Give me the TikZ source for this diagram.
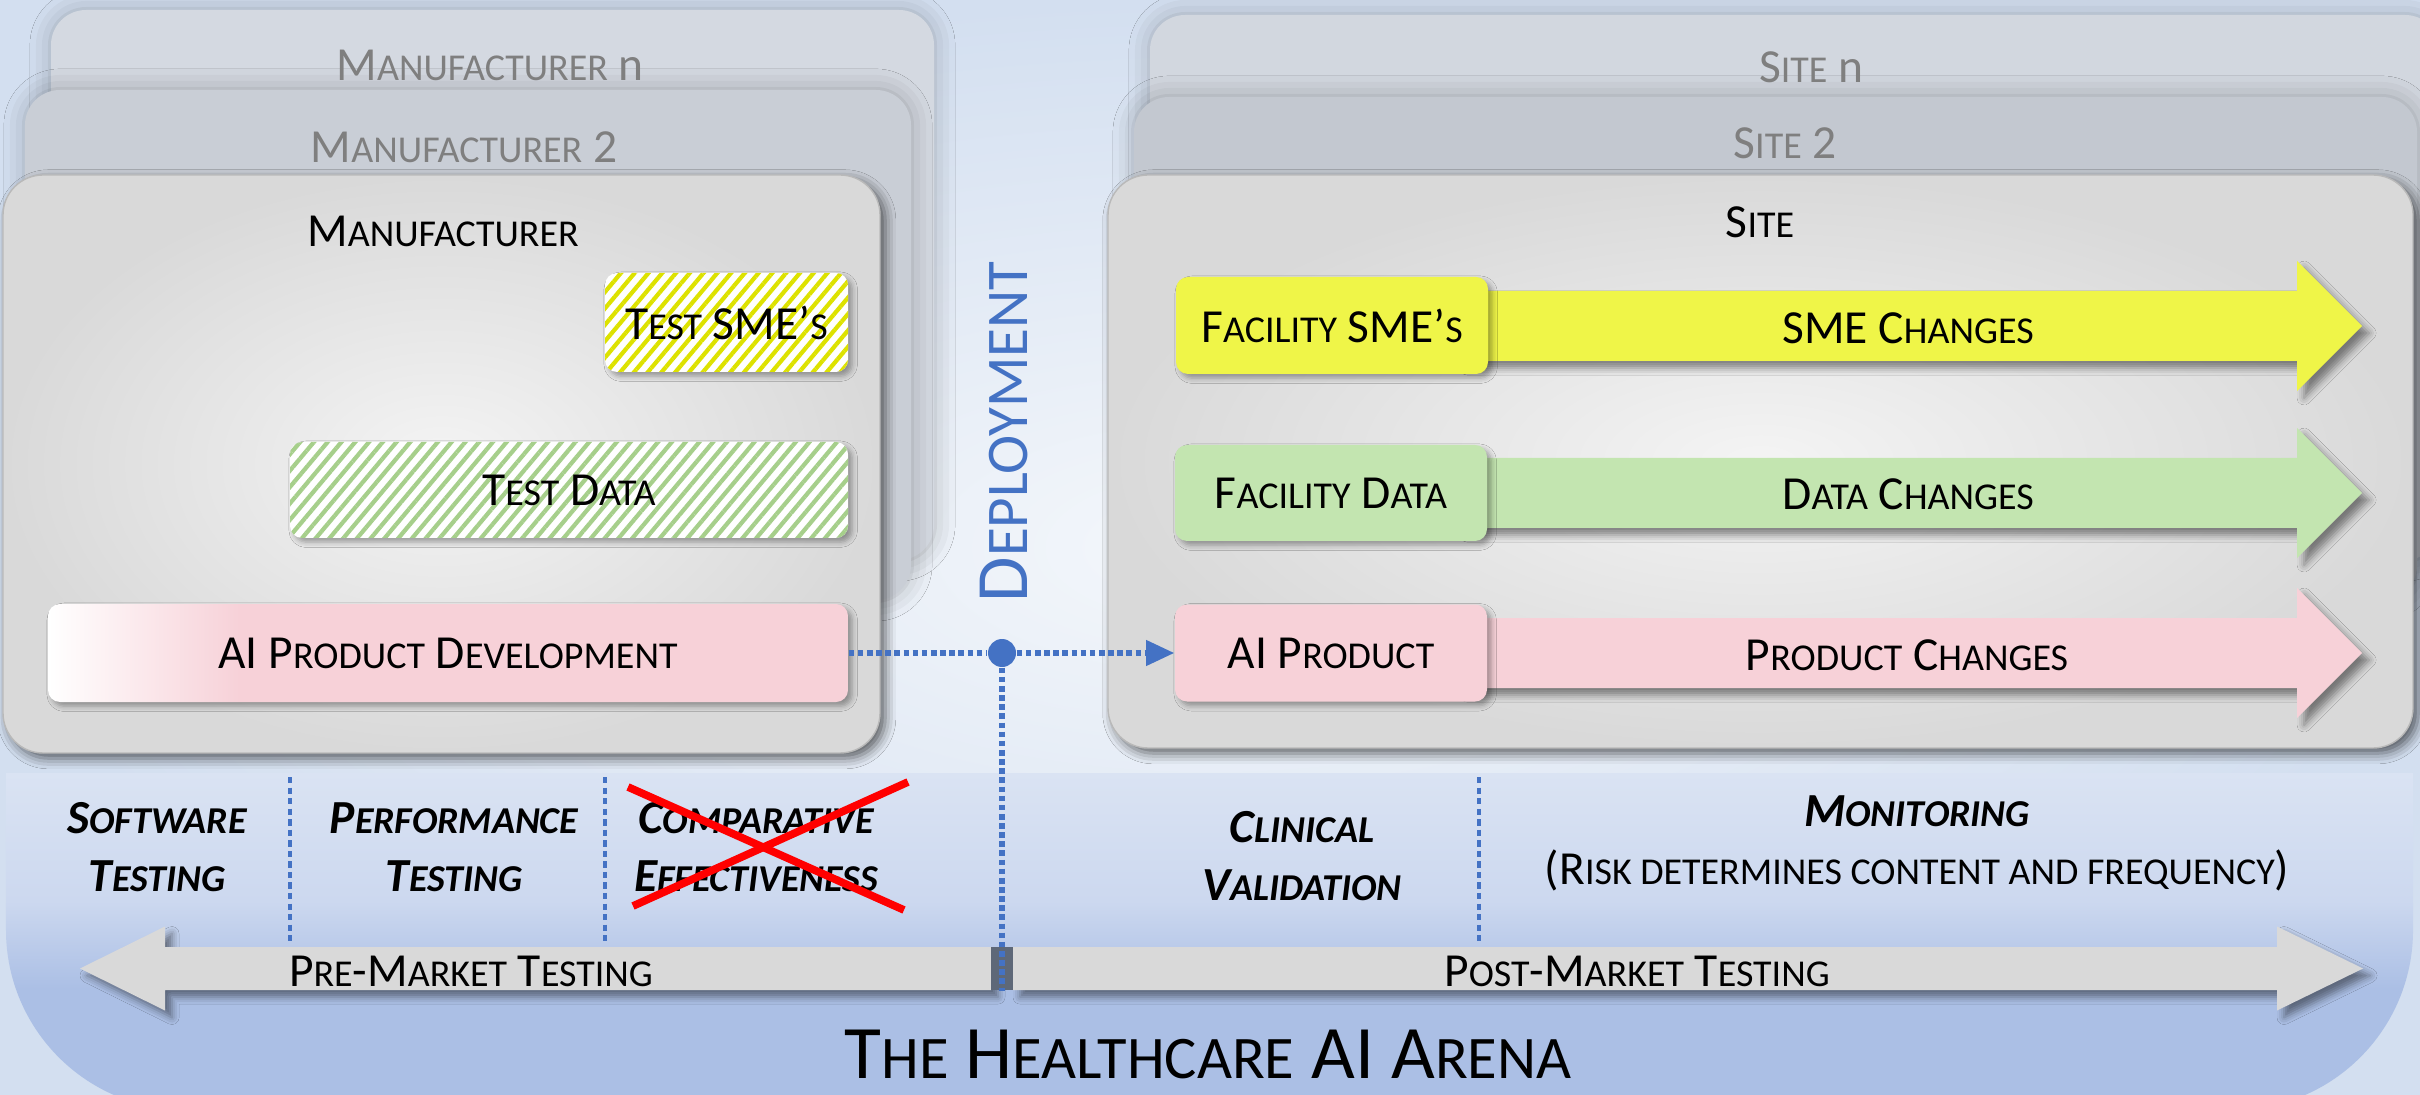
\documentclass[tikz,border=0pt]{standalone}
\usepackage{fontspec}
\setmainfont{Carlito}
\usetikzlibrary{arrows.meta,patterns.meta,shadows.blur}
\definecolor{bgedge}{HTML}{D3DFF0}
\definecolor{bgcenter}{HTML}{F4F7FB}
\definecolor{stackA}{HTML}{D4D9E1}
\definecolor{stackB}{HTML}{C9CED6}
\definecolor{siteA}{HTML}{D2D7DF}
\definecolor{siteB}{HTML}{C3C8D0}
\definecolor{panelgray}{HTML}{D9D9D9}
\definecolor{panellight}{HTML}{F4F4F4}
\definecolor{smeyellow}{HTML}{EFF548}
\definecolor{smestripe}{HTML}{DDE200}
\definecolor{datagreen}{HTML}{C3E5B0}
\definecolor{datastripe}{HTML}{A6CF8B}
\definecolor{prodpink}{HTML}{F7D1D8}
\definecolor{linkblue}{HTML}{4472C4}
\definecolor{bandtop}{HTML}{DAE3F3}
\definecolor{bandmid}{HTML}{CCD8EF}
\definecolor{bandbot}{HTML}{ABBFE5}
\definecolor{arrowgray}{HTML}{D9D9D9}
\definecolor{gapgray}{HTML}{5E6878}
\definecolor{fadegray}{HTML}{7F7F7F}

\makeatletter
\newcommand\lc[1]{{\edef\lcsize{\strip@pt\dimexpr\f@size pt*4/5\relax}\fontsize{\lcsize}{\f@baselineskip}\selectfont\MakeUppercase{#1}}}
\makeatother
\newcommand\lbl{\fontsize{13.5}{16.5}\selectfont}
\newcommand\deployfont{\fontsize{21}{24}\selectfont}
\newcommand\arenafont{\fontsize{21.5}{25}\selectfont}

\pgfdeclarehorizontalshading{devshade}{100bp}{color(0bp)=(white); color(25bp)=(white); color(37bp)=(prodpink); color(100bp)=(prodpink)}
\pgfdeclareverticalshading{bandshade}{100bp}{color(0bp)=(bandbot); color(43bp)=(bandbot); color(56bp)=(bandmid); color(75bp)=(bandtop); color(100bp)=(bandtop)}

\begin{document}
\begin{tikzpicture}[
  stack/.style={rounded corners=0.35cm, inner sep=0pt, fill=#1, blur shadow={shadow xshift=0pt, shadow yshift=0pt, shadow blur radius=6pt, shadow opacity=25}},
  panel/.style={rounded corners=0.4cm, inner sep=0pt, inner color=panellight, outer color=panelgray, draw=gray!55, line width=0.4pt, blur shadow={shadow xshift=1.5pt, shadow yshift=-1.5pt, shadow blur radius=3pt, shadow opacity=60}},
  tag/.style={rounded corners=0.12cm, inner sep=0pt, font=\lbl, blur shadow={shadow xshift=1.2pt, shadow yshift=-1.2pt, shadow blur radius=1.5pt, shadow opacity=35}},
  hatched/.style={tag, preaction={fill=white}, pattern={Lines[angle=50,distance=3pt,line width=1.2pt]}, pattern color=#1},
  chg/.style={fill=#1, blur shadow={shadow xshift=2pt, shadow yshift=-2pt, shadow blur radius=2pt, shadow opacity=45}},
  phase/.style={align=center, font=\lbl\bfseries\itshape},
  link/.style={linkblue, line width=1.5pt, dash pattern=on 1.6pt off 1pt},
  sep/.style={linkblue, line width=1pt, dash pattern=on 1.8pt off 1.2pt},
  heading/.style={font=\lbl},
  faded/.style={font=\lbl, text=fadegray},
  cross/.style={red, line width=2.2pt}]
	\useasboundingbox (0,0) rectangle (24.2,-10.95);
	\shade[inner color=bgcenter, outer color=bgedge] (0,0) rectangle (24.2,-10.95);

	% stacked manufacturers and sites
	\node[stack=stackA, minimum width=8.83cm, minimum height=5.5cm] at (4.925,-2.85) (mfrn) {};
	\node[stack=stackB, minimum width=8.86cm, minimum height=5.1cm] at (4.68,-3.45) (mfr2) {};
	\node[stack=siteA, minimum width=12.9cm, minimum height=5.45cm] at (17.95,-2.875) (siten) {};
	\node[stack=siteB, minimum width=12.83cm, minimum height=5.03cm] at (17.755,-3.485) (site2) {};
	\node[panel, minimum width=8.77cm, minimum height=5.78cm] at (4.415,-4.64) (mfr) {};
	\node[panel, minimum width=13.05cm, minimum height=5.73cm] at (17.605,-4.615) (site) {};

	\node[faded] at (4.90,-0.65) (mfrnlbl) {M\lc{anufacturer} n};
	\node[faded] at (4.64,-1.47) (mfr2lbl) {M\lc{anufacturer} 2};
	\node[heading] at (4.43,-2.31) (mfrlbl) {M\lc{anufacturer}};
	\node[faded] at (18.11,-0.67) (sitenlbl) {S\lc{ite} n};
	\node[faded] at (17.85,-1.43) (site2lbl) {S\lc{ite} 2};
	\node[heading] at (17.60,-2.22) (sitelbl) {S\lc{ite}};

	% arena band
	\shade[shading=bandshade] (0.06,-7.73) -- (24.13,-7.73) -- (24.13,-9.3) arc[start angle=0, end angle=-90, radius=1.8] -- (1.86,-11.1) arc[start angle=270, end angle=180, radius=1.8] -- cycle;
	\draw[sep] (2.90,-7.77) -- (2.90,-9.42);
	\draw[sep] (6.05,-7.77) -- (6.05,-9.42);
	\draw[sep] (14.79,-7.77) -- (14.79,-9.42);
	\fill[chg=arrowgray] (0.80,-9.685) -- (1.65,-9.265) -- (1.65,-9.47) -- (9.91,-9.47) -- (9.91,-9.90) -- (1.65,-9.90) -- (1.65,-10.105) -- cycle;
	\fill[chg=arrowgray] (10.13,-9.47) -- (22.77,-9.47) -- (22.77,-9.265) -- (23.63,-9.685) -- (22.77,-10.105) -- (22.77,-9.90) -- (10.13,-9.90) -- cycle;
	\node[fill=gapgray, minimum width=0.22cm, minimum height=0.43cm, inner sep=0pt] at (10.02,-9.685) (gap) {};

	% change arrows
	\fill[chg=smeyellow] (14.6,-2.91) -- (22.97,-2.91) -- (22.97,-2.61) -- (23.62,-3.26) -- (22.97,-3.91) -- (22.97,-3.61) -- (14.6,-3.61) -- cycle;
	\fill[chg=datagreen] (14.6,-4.58) -- (22.97,-4.58) -- (22.97,-4.28) -- (23.62,-4.93) -- (22.97,-5.58) -- (22.97,-5.28) -- (14.6,-5.28) -- cycle;
	\fill[chg=prodpink] (14.6,-6.18) -- (22.97,-6.18) -- (22.97,-5.88) -- (23.62,-6.53) -- (22.97,-7.18) -- (22.97,-6.88) -- (14.6,-6.88) -- cycle;

	\node[hatched=smestripe, minimum width=2.43cm, minimum height=0.99cm] at (7.265,-3.225) (tsme) {T\lc{est} SME’\lc{s}};
	\node[hatched=datastripe, minimum width=5.58cm, minimum height=0.96cm] at (5.69,-4.90) (tdata) {T\lc{est} D\lc{ata}};
	\node[tag, shade, shading=devshade, minimum width=8.0cm, minimum height=0.98cm] at (4.48,-6.53) (dev) {AI P\lc{roduct} D\lc{evelopment}};
	\node[tag, fill=smeyellow, minimum width=3.12cm, minimum height=0.97cm] at (13.32,-3.255) (fsme) {F\lc{acility} SME’\lc{s}};
	\node[tag, fill=datagreen, minimum width=3.12cm, minimum height=0.96cm] at (13.31,-4.93) (fdata) {F\lc{acility} D\lc{ata}};
	\node[tag, fill=prodpink, minimum width=3.12cm, minimum height=0.97cm] at (13.31,-6.53) (aiprod) {AI P\lc{roduct}};

	\node[heading] at (19.08,-3.28) (smechg) {SME C\lc{hanges}};
	\node[heading] at (19.08,-4.94) (datachg) {D\lc{ata} C\lc{hanges}};
	\node[heading] at (19.07,-6.55) (prodchg) {P\lc{roduct} C\lc{hanges}};

	% deployment
	\node[rotate=90, text=linkblue, font=\deployfont] at (10.04,-4.32) (deploy) {D\lc{eployment}};
	\node[circle, fill=linkblue, inner sep=0pt, minimum size=0.28cm] at (10.02,-6.53) (hub) {};
	\draw[link] (dev) -- (hub);
	\draw[link, -{Triangle[length=8pt, width=7pt]}] (hub) -- (aiprod);
	\draw[link] (hub) -- (gap.south);

	% testing phases
	\node[phase] at (1.57,-8.47) (swtest) {S\lc{oftware}\\T\lc{esting}};
	\node[phase] at (4.54,-8.47) (perftest) {P\lc{erformance}\\T\lc{esting}};
	\node[phase] at (7.56,-8.47) (compeff) {C\lc{omparative}\\E\lc{ffectiveness}};
	\node[phase] at (13.02,-8.56) (clinval) {C\lc{linical}\\V\lc{alidation}};
	\node[align=center, font=\lbl] at (19.17,-8.43) (monitor) {\textbf{\textit{M\lc{onitoring}}}\\(R\lc{isk determines content and frequency})};
	\draw[cross] (6.28,-7.87) -- (9.04,-9.10);
	\draw[cross] (9.08,-7.82) -- (6.33,-9.06);

	\node[heading] at (4.71,-9.71) (premkt) {P\lc{re}-M\lc{arket} T\lc{esting}};
	\node[heading] at (16.37,-9.71) (postmkt) {P\lc{ost}-M\lc{arket} T\lc{esting}};
	\node[font=\arenafont] at (12.08,-10.54) (arena) {T\lc{he} H\lc{ealthcare} AI A\lc{rena}};
\end{tikzpicture}
\end{document}
